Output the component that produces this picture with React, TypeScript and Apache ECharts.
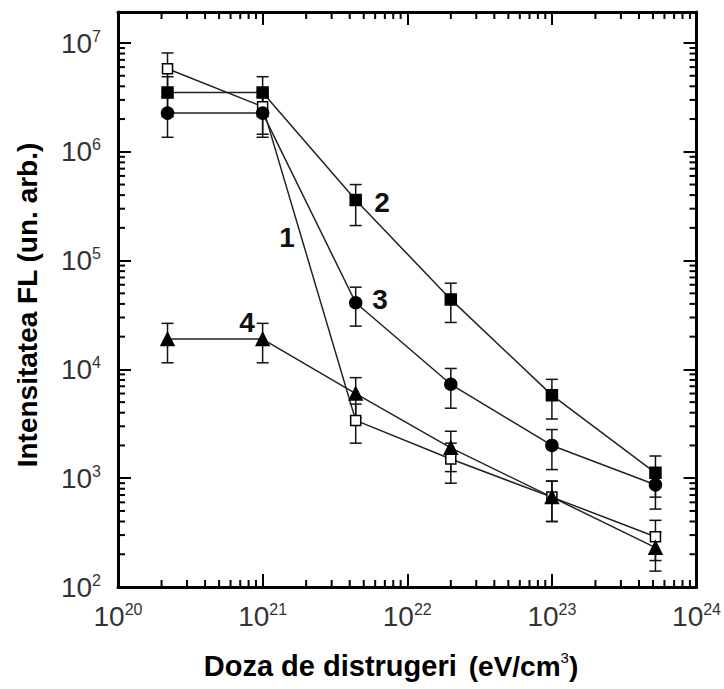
import React, { useEffect, useRef } from "react";
import * as echarts from "echarts";

// Dose (eV/cm^3)
const doses = [2.2e20, 1e21, 4.4e21, 2e22, 1e23, 5.2e23];

// Series 1 (open square)
const s1 = [5.8e6, 2.6e6, 3.4e3, 1.5e3, 6.7e2, 2.9e2];
const s1Hi = [8.1e6, 3.6e6, 4.8e3, 2.1e3, 9.4e2, 4.1e2];
const s1Lo = [3.5e6, 1.45e6, 2.1e3, 9.0e2, 4.0e2, 1.75e2];

// Series 2 (filled square)
const s2 = [3.5e6, 3.5e6, 3.6e5, 4.4e4, 5.8e3, 1.12e3];
const s2Hi = [4.9e6, 4.9e6, 5.0e5, 6.2e4, 8.1e3, 1.6e3];
const s2Lo = [2.1e6, 2.1e6, 2.1e5, 2.7e4, 3.5e3, 6.7e2];

// Series 3 (filled circle)
const s3 = [2.27e6, 2.27e6, 4.1e4, 7.3e3, 2.0e3, 8.7e2];
const s3Hi = [3.2e6, 3.2e6, 5.7e4, 1.02e4, 2.8e3, 1.2e3];
const s3Lo = [1.36e6, 1.36e6, 2.5e4, 4.4e3, 1.2e3, 5.2e2];

// Series 4 (filled triangle)
const s4 = [1.9e4, 1.9e4, 6.0e3, 1.9e3, 6.7e2, 2.3e2];
const s4Hi = [2.65e4, 2.65e4, 8.4e3, 2.7e3, 9.4e2, 3.2e2];
const s4Lo = [1.15e4, 1.15e4, 3.6e3, 1.15e3, 4.0e2, 1.4e2];

const seriesNames = ["1", "2", "3", "4"];

const xMin = 1e20;
const xMax = 1e24;
const yMin = 1e2;
const yMax = Math.pow(10, 7.285);

const xDecades = [20, 21, 22, 23];
const yDecades = [2, 3, 4, 5, 6, 7];
const minorMultipliers = [2, 3, 4, 5, 6, 7, 8, 9];

const TICK_FONT = "'Liberation Sans Narrow', 'Arial Narrow', 'Liberation Sans', Arial, sans-serif";
const TITLE_FONT = "'Liberation Sans', Arial, sans-serif";

function expLabel(v: number): string {
  const l = Math.log10(v);
  const e = Math.round(l);
  if (Math.abs(l - e) > 0.01) return "";
  return `{b|10}{s|${e}}`;
}

const labelRich = {
  b: { fontSize: 28, fontFamily: TICK_FONT, color: "#333", lineHeight: 30 },
  s: { fontSize: 16, fontFamily: TICK_FONT, color: "#333", verticalAlign: "top", lineHeight: 16 },
};

function makeErrorSeries(name: string, lo: number[], hi: number[]) {
  return {
    name: name + "-err",
    type: "custom",
    z: 2,
    silent: true,
    encode: { x: 0, y: [1, 2] },
    data: doses.map((d, i) => [d, lo[i], hi[i]]),
    renderItem: (params: any, api: any) => {
      const x = api.value(0);
      const a = api.coord([x, api.value(1)]);
      const b = api.coord([x, api.value(2)]);
      const hw = 6;
      const style = { stroke: "#111", lineWidth: 1.5, fill: "none" };
      return {
        type: "group",
        children: [
          { type: "line", shape: { x1: a[0], y1: a[1], x2: b[0], y2: b[1] }, style },
          { type: "line", shape: { x1: a[0] - hw, y1: a[1], x2: a[0] + hw, y2: a[1] }, style },
          { type: "line", shape: { x1: b[0] - hw, y1: b[1], x2: b[0] + hw, y2: b[1] }, style },
        ],
      };
    },
  };
}

function makeLineSeries(name: string, vals: number[], symbol: string, size: number, fill: string) {
  return {
    name,
    type: "line",
    z: 3,
    data: doses.map((d, i) => [d, vals[i]]),
    symbol,
    symbolSize: size,
    showSymbol: true,
    itemStyle: { color: fill, borderColor: "#000", borderWidth: 1.5, opacity: 1 },
    lineStyle: { color: "#222", width: 1.5 },
    emphasis: { disabled: true },
  };
}

export default function App() {
  const ref = useRef<HTMLDivElement>(null);
  useEffect(() => {
    if (!ref.current) return;
    const chart = echarts.init(ref.current, undefined, { renderer: "svg" });

    const xMinor: number[][] = [];
    xDecades.forEach((e) => minorMultipliers.forEach((m) => xMinor.push([m * Math.pow(10, e), 1000])));
    const yMinor: number[][] = [];
    yDecades.forEach((e) =>
      minorMultipliers.forEach((m) => {
        const v = m * Math.pow(10, e);
        if (v < yMax) yMinor.push([1e22, v]);
      })
    );

    const axisLine = { show: true, lineStyle: { color: "#000", width: 3 } };
    const axisTick = { show: true, inside: true, length: 13, lineStyle: { color: "#000", width: 2 } };

    chart.setOption({
      animation: false,
      backgroundColor: "#fff",
      grid: { left: 118, right: 26, top: 12, bottom: 102, show: false },
      xAxis: [
        {
          type: "log",
          logBase: 10,
          min: xMin,
          max: xMax,
          position: "bottom",
          axisLine,
          axisTick,
          splitLine: { show: false },
          axisLabel: {
            margin: 14,
            formatter: expLabel,
            rich: labelRich,
            showMinLabel: true,
            showMaxLabel: true,
          },
        },
        {
          type: "log",
          logBase: 10,
          min: xMin,
          max: xMax,
          position: "top",
          axisLine,
          axisTick,
          splitLine: { show: false },
          axisLabel: { show: false },
        },
      ],
      yAxis: [
        {
          type: "log",
          logBase: 10,
          min: yMin,
          max: yMax,
          position: "left",
          axisLine,
          axisTick,
          splitLine: { show: false },
          axisLabel: {
            margin: 17,
            formatter: expLabel,
            rich: labelRich,
            showMaxLabel: false,
          },
        },
        {
          type: "log",
          logBase: 10,
          min: yMin,
          max: yMax,
          position: "right",
          axisLine,
          axisTick,
          splitLine: { show: false },
          axisLabel: { show: false },
        },
      ],
      series: [
        {
          name: "xminor",
          type: "custom",
          silent: true,
          z: 1,
          encode: { x: 0, y: 1 },
          data: xMinor,
          renderItem: (params: any, api: any) => {
            const cs = params.coordSys;
            const px = api.coord([api.value(0), api.value(1)])[0];
            const style = { stroke: "#000", lineWidth: 2 };
            return {
              type: "group",
              children: [
                { type: "line", shape: { x1: px, y1: cs.y + cs.height, x2: px, y2: cs.y + cs.height - 7 }, style },
                { type: "line", shape: { x1: px, y1: cs.y, x2: px, y2: cs.y + 7 }, style },
              ],
            };
          },
        },
        {
          name: "yminor",
          type: "custom",
          silent: true,
          z: 1,
          encode: { x: 0, y: 1 },
          data: yMinor,
          renderItem: (params: any, api: any) => {
            const cs = params.coordSys;
            const py = api.coord([api.value(0), api.value(1)])[1];
            const style = { stroke: "#000", lineWidth: 2 };
            return {
              type: "group",
              children: [
                { type: "line", shape: { x1: cs.x, y1: py, x2: cs.x + 7, y2: py }, style },
                { type: "line", shape: { x1: cs.x + cs.width, y1: py, x2: cs.x + cs.width - 7, y2: py }, style },
              ],
            };
          },
        },
        makeErrorSeries(seriesNames[0], s1Lo, s1Hi),
        makeErrorSeries(seriesNames[1], s2Lo, s2Hi),
        makeErrorSeries(seriesNames[2], s3Lo, s3Hi),
        makeErrorSeries(seriesNames[3], s4Lo, s4Hi),
        makeLineSeries(seriesNames[0], s1, "rect", 10, "#fff"),
        makeLineSeries(seriesNames[1], s2, "rect", 11, "#000"),
        makeLineSeries(seriesNames[2], s3, "circle", 12, "#000"),
        makeLineSeries(seriesNames[3], s4, "triangle", 13, "#000"),
      ],
      graphic: [
        {
          type: "text",
          x: 27,
          y: 305,
          rotation: Math.PI / 2,
          style: {
            text: "Intensitatea FL (un. arb.)",
            font: `bold 28px ${TITLE_FONT}`,
            fill: "#000",
            align: "center",
            verticalAlign: "middle",
          },
        },
        {
          type: "text",
          x: 391,
          y: 666,
          style: {
            text: "{b|Doza de distrugeri}{sp| }{n|(eV/cm}{s|3}{n|)}",
            align: "center",
            verticalAlign: "middle",
            rich: {
              b: { font: `bold 29px ${TITLE_FONT}`, fill: "#000", lineHeight: 32 },
              sp: { font: `bold 29px ${TITLE_FONT}`, fill: "#000", lineHeight: 32, width: 12 },
              n: { font: `bold 28px ${TICK_FONT}`, fill: "#000", lineHeight: 32 },
              s: { font: `15px ${TITLE_FONT}`, fill: "#000", verticalAlign: "top", lineHeight: 15 },
            },
          },
        },
        { type: "text", x: 287, y: 237, style: { text: "1", font: `bold 28px ${TITLE_FONT}`, fill: "#111", align: "center", verticalAlign: "middle" } },
        { type: "text", x: 382, y: 202, style: { text: "2", font: `bold 28px ${TITLE_FONT}`, fill: "#111", align: "center", verticalAlign: "middle" } },
        { type: "text", x: 380, y: 299, style: { text: "3", font: `bold 28px ${TITLE_FONT}`, fill: "#111", align: "center", verticalAlign: "middle" } },
        { type: "text", x: 247, y: 322, style: { text: "4", font: `bold 28px ${TITLE_FONT}`, fill: "#111", align: "center", verticalAlign: "middle" } },
      ],
    });
    return () => chart.dispose();
  }, []);
  return <div ref={ref} style={{ position: "absolute", left: 0, top: 0, width: 724, height: 689 }} />;
}
